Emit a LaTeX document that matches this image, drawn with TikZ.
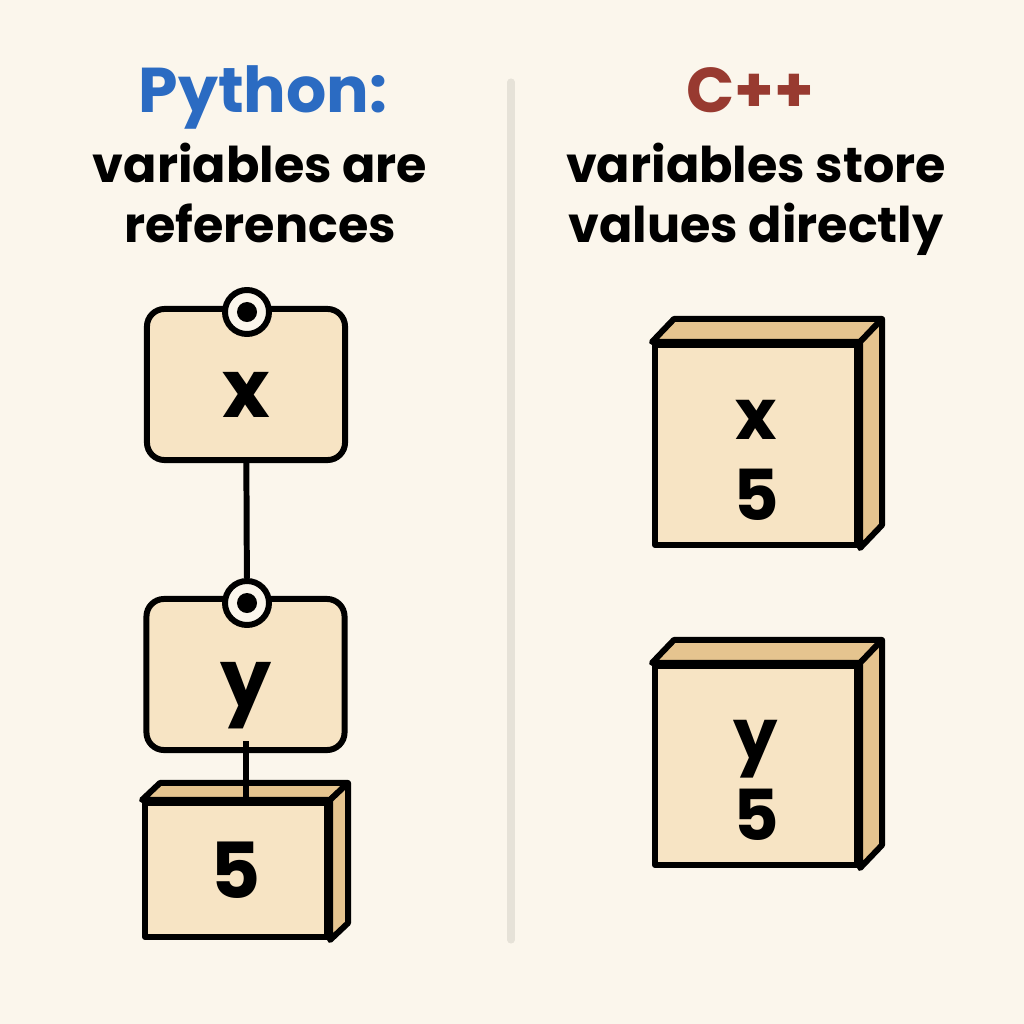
\documentclass[tikz,border=0pt]{standalone}
\usepackage{fontspec}
\setmainfont{Poppins}
\usepackage{tikz}
\usetikzlibrary{positioning,calc}
\usepackage{xcolor}
\definecolor{paper}{HTML}{FBF6EC}
\definecolor{pyblue}{HTML}{2B6BC2}
\definecolor{cppred}{HTML}{983A30}
\definecolor{face}{HTML}{F7E4C4}
\definecolor{side}{HTML}{E5C48F}
\definecolor{divider}{HTML}{E6E2D8}
\newcommand{\cubeside}[3]{%
  \filldraw[fill=side] (#1.north west) -- ++(#2,#3) -- ($(#1.north east)+(#2,#3)$) -- (#1.north east) -- cycle;
  \filldraw[fill=side] (#1.north east) -- ++(#2,#3) -- ($(#1.south east)+(#2,#3)$) -- (#1.south east) -- cycle;}

\begin{document}
\begin{tikzpicture}[x=0.01cm, y=-0.01cm, line width=1.7pt, line join=round,
      title/.style={font=\fontsize{18}{22}\selectfont\bfseries, anchor=base},
      subtitle/.style={font=\fontsize{14}{17}\selectfont\bfseries, align=center, anchor=base},
      refbox/.style={draw, fill=face, rounded corners=5pt, minimum width=19.8mm, minimum height=15.1mm},
      cube/.style={draw, fill=face, inner sep=0pt},
      pin/.style={draw, fill=paper, circle, minimum size=4.4mm, inner sep=0pt,
                  path picture={\fill[black] (path picture bounding box.center) circle (1mm);}},
      var/.style={font=\fontsize{23}{28}\selectfont\bfseries, inner sep=1mm},
      val/.style={font=\fontsize{20}{23}\selectfont\bfseries, align=center}]
    \fill[paper] (0,0) rectangle (1024,1024);
    \useasboundingbox (0,0) rectangle (1024,1024);
    \draw[divider, line width=2pt, line cap=round] (511,82) -- (511,940);

    % headings
    \node[title, text=pyblue] (pyhead) at (263,112) {Python:};
    \node[subtitle] (pysub) at (260,242) {variables are\\references};
    \node[title, text=cppred] (cpphead) at (750,112) {C++};
    \node[subtitle] (cppsub) at (756,242) {variables store\\values directly};

    % Python: names point to one object
    \node[refbox] (bx) at (246,384.5) {};
    \node[pin] (px) at (247,312) {};
    \node[var] (vx) at (246,417) [anchor=base] {x};
    \node[refbox] (by) at (245.5,674.5) {};
    \node[pin] (py) at (247,603) {};
    \node[var] (vy) at (246,707) [anchor=base] {y};
    \node[cube, minimum width=18.2mm, minimum height=13.4mm,
          font=\fontsize{22}{26}\selectfont\bfseries] (v5) at (236,870) {5};
    \cubeside{v5}{18}{-17}
    \draw (bx) -- (py);
    \draw (vy.south) -- (vy.south |- v5.north);

    % C++: each variable holds its own value
    \node[cube, minimum width=20.2mm, minimum height=20mm] (cx) at (756,445) {};
    \cubeside{cx}{22}{-23}
    \node[val] (cxval) at (756,460) {x\\5};
    \node[cube, minimum width=20.2mm, minimum height=19.9mm] (cy) at (756,765.5) {};
    \cubeside{cy}{22}{-23}
    \node[val] (cyval) at (756,780) {y\\5};
  \end{tikzpicture}
\end{document}
